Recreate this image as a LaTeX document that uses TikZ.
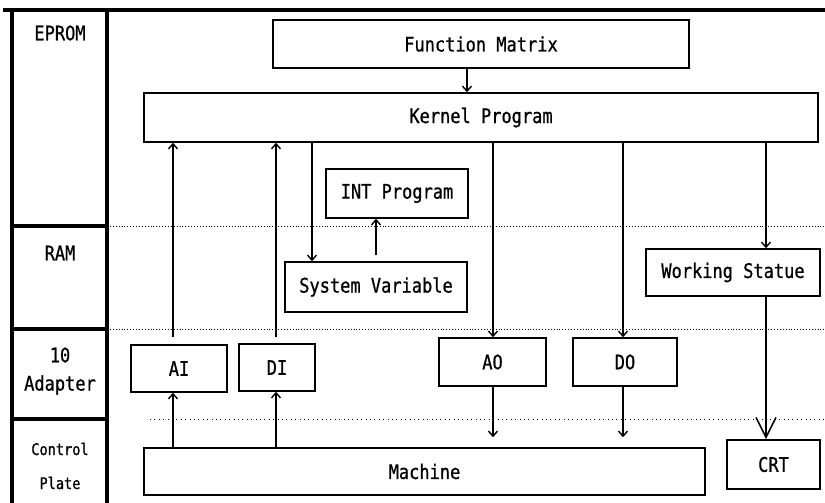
\documentclass[tikz,border=0pt]{standalone}
\usepackage{fontspec}
\setmonofont[FakeStretch=0.85,FakeBold=0.8]{DejaVu Sans Mono}
\usetikzlibrary{arrows.meta}
\begin{document}
\begin{tikzpicture}[x=1pt,y=-1pt,
  box/.style={draw,line width=1.6pt,inner sep=0pt,font=\ttfamily\fontsize{20}{24}\selectfont},
  lbl/.style={inner sep=0pt,font=\ttfamily\fontsize{20}{24}\selectfont},
  slbl/.style={inner sep=0pt,font=\ttfamily\fontsize{16}{19}\selectfont},
  arr/.style={line width=1.4pt,-{Straight Barb[length=5pt,width=9pt,line width=1.4pt]}},
  bigarr/.style={line width=1.6pt,-{Straight Barb[length=20pt,width=20pt,line width=1.6pt]}},
  frame/.style={line width=3.2pt},
  sep/.style={dotted,line width=0.9pt}]
\useasboundingbox (0,0) rectangle (825,503);
% frame
\draw[frame] (3,10) -- (825,10);
\draw[frame] (12,10) -- (12,503);
\draw[frame] (107,10) -- (107,503);
\draw[frame] (12,226) -- (107,226);
\draw[frame] (12,329) -- (107,329);
\draw[frame] (12,419) -- (107,419);
\draw[sep] (107,226) -- (825,226);
\draw[sep] (107,329) -- (825,329);
\draw[sep,dash pattern=on 0.9pt off 3.5pt] (150,419) -- (825,419);
% left labels
\node[lbl] (l1) at (60,33) {EPROM};
\node[lbl] (l2) at (60,253) {RAM};
\node[lbl] (l3) at (60,355) {10};
\node[lbl] (l4) at (60,385) {Adapter};
\node[slbl] (l5) at (60,449) {Control};
\node[slbl] (l6) at (60,483) {Plate};
% boxes
\node[box,minimum width=416pt,minimum height=48pt] (fm) at (481,44) {Function Matrix};
\node[box,minimum width=674pt,minimum height=49pt] (kp) at (481,117.5) {Kernel Program};
\node[box,minimum width=142pt,minimum height=49pt] (int) at (397,193.5) {INT Program};
\node[box,minimum width=182pt,minimum height=50pt] (sv) at (376,287) {System Variable};
\node[box,minimum width=174pt,minimum height=47pt] (ws) at (733,272.5) {Working Statue};
\node[box,minimum width=96pt,minimum height=47pt] (ai) at (179,368.5) {AI};
\node[box,minimum width=76pt,minimum height=47pt] (di) at (277,367.5) {DI};
\node[box,minimum width=107pt,minimum height=48pt] (ao) at (492.5,362) {AO};
\node[box,minimum width=104pt,minimum height=48pt] (do) at (625,362) {DO};
\node[box,minimum width=561pt,minimum height=47pt] (mc) at (424.5,471.5) {Machine};
\node[box,minimum width=93pt,minimum height=49pt] (crt) at (773.5,464.5) {CRT};
% columns
\coordinate (cA) at (173,0);
\coordinate (cD) at (276,0);
\coordinate (cS) at (312,0);
\coordinate (cI) at (376,0);
\coordinate (cF) at (467,0);
\coordinate (cAO) at (493,0);
\coordinate (cDO) at (623,0);
\coordinate (cW) at (766,0);
% connectors
\draw[arr] (fm.south -| cF) -- (kp.north -| cF);
\draw[arr,shorten <=7pt] (ai.north -| cA) -- (kp.south -| cA);
\draw[arr] (mc.north -| cA) -- (ai.south -| cA);
\draw[arr,shorten <=6pt] (di.north -| cD) -- (kp.south -| cD);
\draw[arr] (mc.north -| cD) -- (di.south -| cD);
\draw[arr] (kp.south -| cS) -- (sv.north -| cS);
\draw[arr,shorten <=6pt] (sv.north -| cI) -- (int.south -| cI);
\draw[arr] (kp.south -| cAO) -- (ao.north -| cAO);
\draw[arr] (kp.south -| cDO) -- (do.north -| cDO);
\draw[arr] (kp.south -| cW) -- (ws.north -| cW);
\draw[arr,shorten >=10pt] (ao.south -| cAO) -- (mc.north -| cAO);
\draw[arr,shorten >=10pt] (do.south -| cDO) -- (mc.north -| cDO);
\draw[bigarr] (ws.south -| cW) -- (crt.north -| cW);
\end{tikzpicture}
\end{document}
